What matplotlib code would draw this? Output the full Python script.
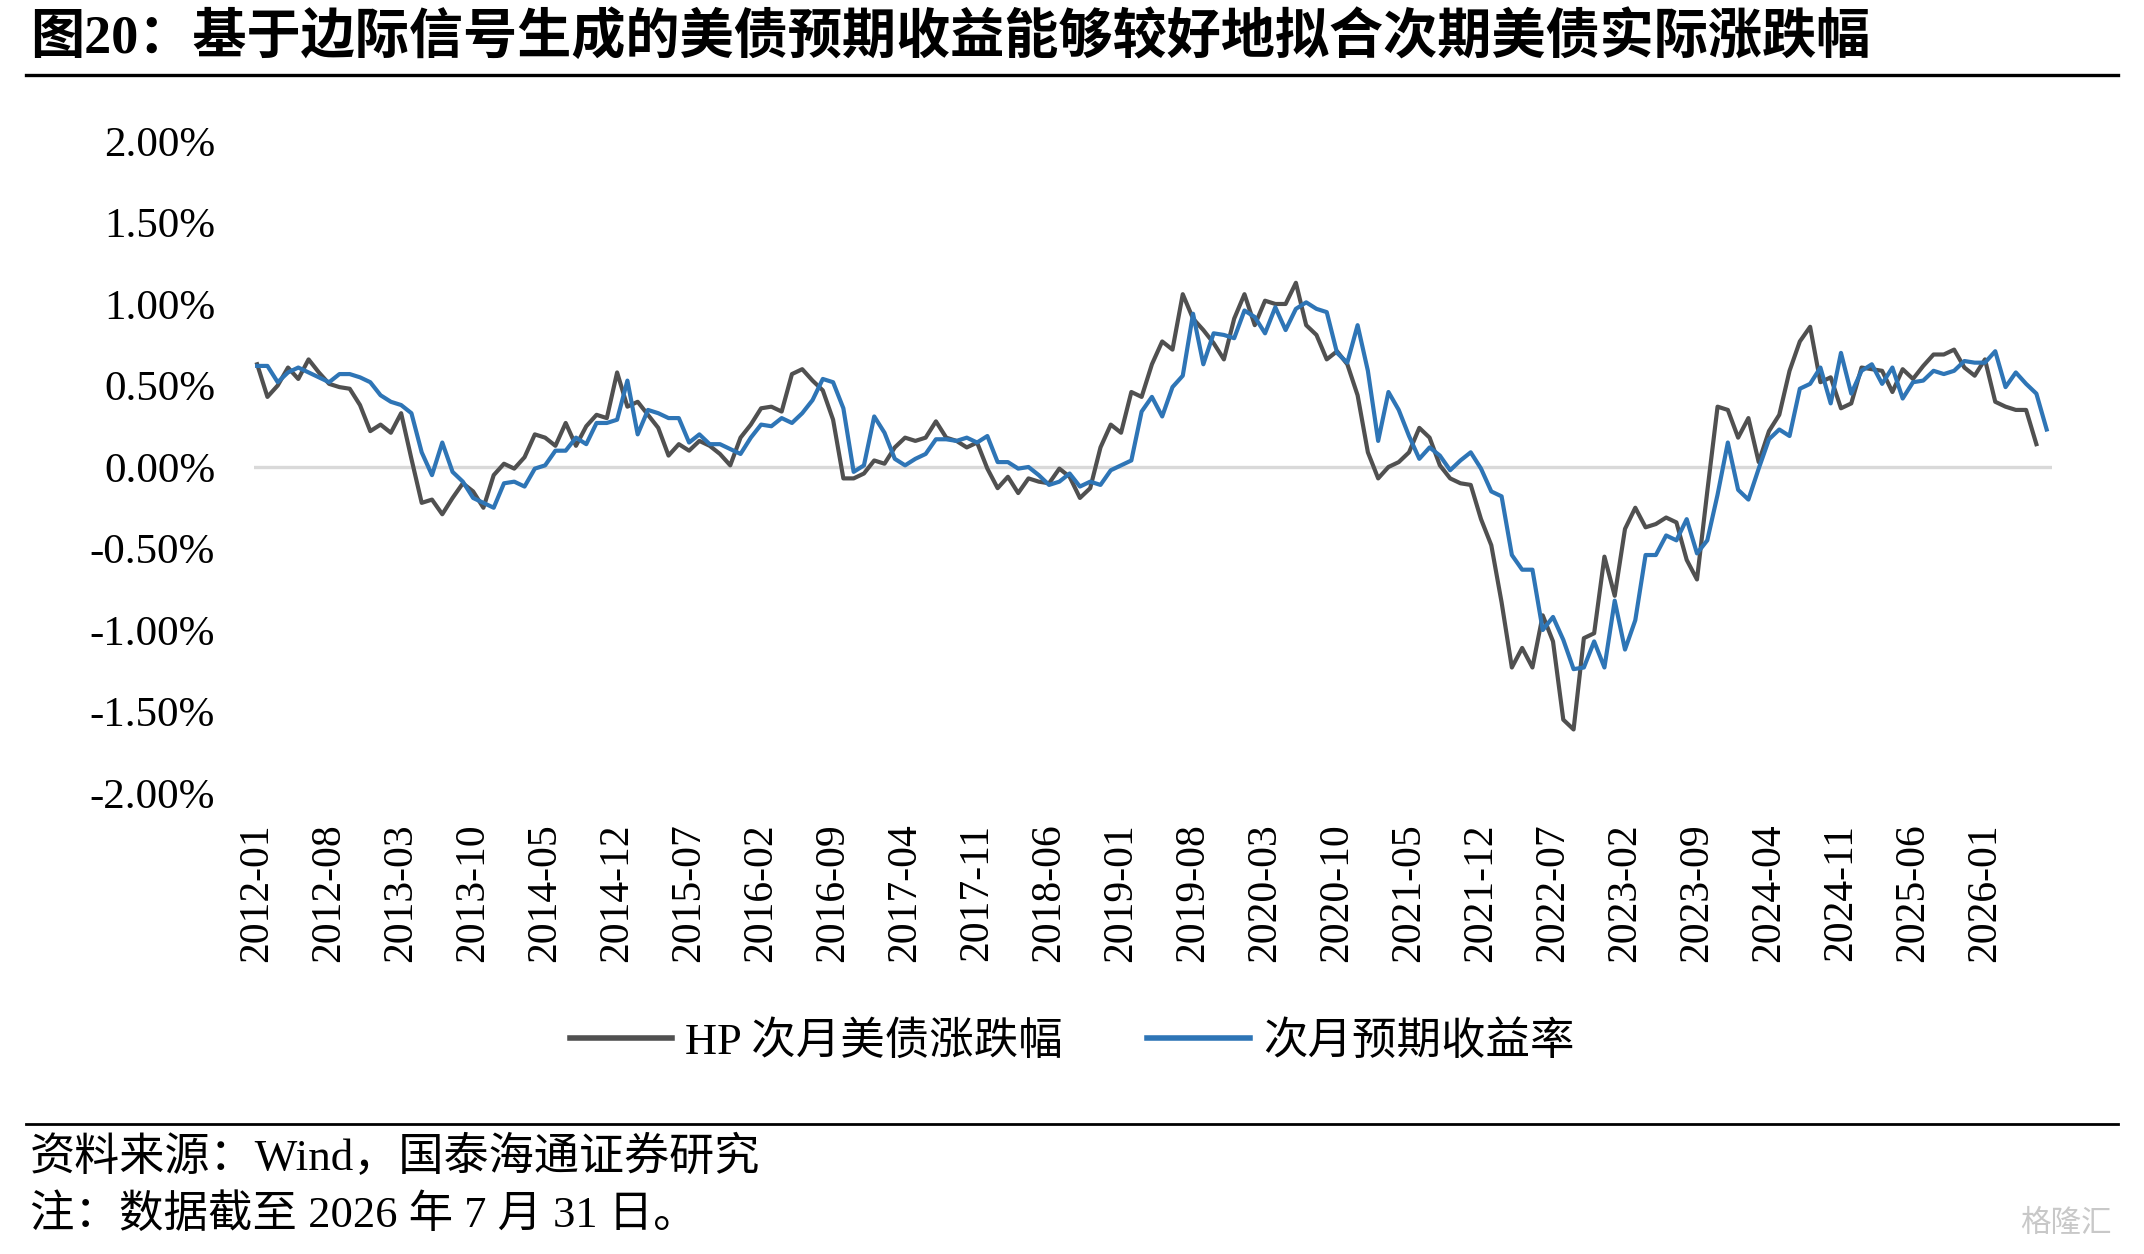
import matplotlib
matplotlib.use("Agg")
import matplotlib.pyplot as plt
from matplotlib.lines import Line2D
import pandas as pd

plt.rcParams['font.family'] = ['Liberation Serif', 'Noto Sans CJK SC']
plt.rcParams['axes.unicode_minus'] = False

# monthly categories 2012-01 .. 2026-07
months = pd.date_range('2012-01-01', periods=175, freq='MS').strftime('%Y-%m').tolist()

# HP 次月美债涨跌幅 (%), ends 2026-06
hp_change = [
    0.63, 0.43, 0.50, 0.61, 0.54, 0.66, 0.58, 0.51, 0.49, 0.48,
    0.38, 0.22, 0.26, 0.21, 0.33, 0.05, -0.22, -0.20, -0.29, -0.19,
    -0.10, -0.15, -0.25, -0.05, 0.02, -0.01, 0.06, 0.20, 0.18, 0.13,
    0.27, 0.13, 0.25, 0.32, 0.30, 0.58, 0.37, 0.40, 0.32, 0.24,
    0.07, 0.14, 0.10, 0.16, 0.13, 0.08, 0.01, 0.18, 0.26, 0.36,
    0.37, 0.34, 0.57, 0.60, 0.53, 0.47, 0.29, -0.07, -0.07, -0.04,
    0.04, 0.02, 0.12, 0.18, 0.16, 0.18, 0.28, 0.18, 0.16, 0.12,
    0.15, -0.01, -0.13, -0.06, -0.16, -0.07, -0.09, -0.10, -0.01, -0.06,
    -0.19, -0.13, 0.12, 0.26, 0.21, 0.46, 0.43, 0.63, 0.77, 0.72,
    1.06, 0.91, 0.84, 0.76, 0.66, 0.91, 1.06, 0.87, 1.02, 1.00,
    1.00, 1.13, 0.87, 0.81, 0.66, 0.71, 0.63, 0.44, 0.09, -0.07,
    0.00, 0.03, 0.09, 0.24, 0.18, 0.01, -0.07, -0.10, -0.11, -0.32,
    -0.48, -0.83, -1.23, -1.11, -1.23, -0.91, -1.07, -1.55, -1.61, -1.05,
    -1.02, -0.55, -0.79, -0.38, -0.25, -0.37, -0.35, -0.31, -0.34, -0.57,
    -0.69, -0.15, 0.37, 0.35, 0.18, 0.30, 0.03, 0.22, 0.32, 0.59,
    0.77, 0.86, 0.52, 0.55, 0.36, 0.39, 0.61, 0.60, 0.59, 0.46,
    0.60, 0.54, 0.62, 0.69, 0.69, 0.72, 0.61, 0.56, 0.66, 0.40,
    0.37, 0.35, 0.35, 0.14,
]

# 次月预期收益率 (%), ends 2026-07
expected_ret = [
    0.62, 0.62, 0.52, 0.58, 0.61, 0.58, 0.55, 0.52, 0.57, 0.57,
    0.55, 0.52, 0.44, 0.40, 0.38, 0.33, 0.09, -0.05, 0.15, -0.03,
    -0.09, -0.19, -0.22, -0.25, -0.10, -0.09, -0.12, -0.01, 0.01, 0.10,
    0.10, 0.18, 0.14, 0.27, 0.27, 0.29, 0.53, 0.20, 0.35, 0.33,
    0.30, 0.30, 0.15, 0.20, 0.14, 0.14, 0.11, 0.08, 0.18, 0.26,
    0.25, 0.30, 0.27, 0.33, 0.41, 0.54, 0.52, 0.36, -0.03, 0.01,
    0.31, 0.21, 0.05, 0.01, 0.05, 0.08, 0.17, 0.17, 0.16, 0.18,
    0.15, 0.19, 0.03, 0.03, -0.01, 0.00, -0.05, -0.11, -0.09, -0.04,
    -0.12, -0.09, -0.11, -0.02, 0.01, 0.04, 0.34, 0.43, 0.31, 0.49,
    0.56, 0.94, 0.63, 0.82, 0.81, 0.79, 0.96, 0.92, 0.82, 0.98,
    0.84, 0.97, 1.01, 0.97, 0.95, 0.70, 0.64, 0.87, 0.59, 0.16,
    0.46, 0.35, 0.19, 0.05, 0.12, 0.07, -0.02, 0.04, 0.09, -0.01,
    -0.15, -0.18, -0.54, -0.63, -0.63, -1.00, -0.92, -1.06, -1.24, -1.23,
    -1.07, -1.23, -0.82, -1.12, -0.94, -0.54, -0.54, -0.42, -0.45, -0.32,
    -0.53, -0.45, -0.17, 0.15, -0.14, -0.20, -0.01, 0.17, 0.23, 0.19,
    0.48, 0.51, 0.61, 0.39, 0.70, 0.45, 0.59, 0.63, 0.51, 0.61,
    0.42, 0.52, 0.53, 0.59, 0.57, 0.59, 0.65, 0.64, 0.64, 0.71,
    0.49, 0.58, 0.51, 0.45, 0.23,
]

y_ticks = [-2.0, -1.5, -1.0, -0.5, 0.0, 0.5, 1.0, 1.5, 2.0]

title = '图20：基于边际信号生成的美债预期收益能够较好地拟合次期美债实际涨跌幅'
label_hp = 'HP 次月美债涨跌幅'
label_exp = '次月预期收益率'
source = '资料来源：Wind，国泰海通证券研究'
note = '注：数据截至 2026 年 7 月 31 日。'

black_c = '#505050'
blue_c = '#2e75b6'

fig = plt.figure(figsize=(21.44, 12.54), dpi=100)
ax = fig.add_axes([0.1185, 0.3676, 0.8385, 0.52])

x = list(range(len(months)))
ax.axhline(0, color='#d9d9d9', lw=2.4, zorder=1)
ax.plot(x[:len(hp_change)], hp_change, color=black_c, lw=3.0, zorder=3)
ax.plot(x[:len(expected_ret)], expected_ret, color=blue_c, lw=3.0, zorder=4)

ax.set_xlim(-0.3, 174.5)
ax.set_ylim(-2.0, 2.0)
ax.set_yticks(y_ticks)
ax.set_yticklabels(['{:.2f}%'.format(v) for v in y_ticks], fontsize=31)
tick_pos = x[::7]
ax.set_xticks(tick_pos)
ax.set_xticklabels([months[i] for i in tick_pos], rotation=90, fontsize=30,
                   va='top', ha='center')
ax.tick_params(axis='y', length=0, pad=28)
ax.tick_params(axis='x', length=0, pad=22)
for s in ax.spines.values():
    s.set_visible(False)

# title and rules
fig.text(0.014, 0.969, title, fontsize=39, fontweight='bold', va='center', ha='left')
fig.add_artist(Line2D([0.012, 0.988], [0.940, 0.940], color='black', lw=2.4))
fig.add_artist(Line2D([0.012, 0.988], [0.104, 0.104], color='black', lw=2.0))

# legend
handles = [Line2D([], [], color=black_c, lw=4.0),
           Line2D([], [], color=blue_c, lw=4.0)]
fig.legend(handles, [label_hp, label_exp], loc='center', bbox_to_anchor=(0.5, 0.169),
           ncol=2, frameon=False, fontsize=32, handlelength=2.3,
           handletextpad=0.3, columnspacing=1.9)

# footer
fig.text(0.014, 0.077, source, fontsize=32.5, va='center', ha='left')
fig.text(0.014, 0.031, note, fontsize=32, va='center', ha='left')
fig.text(0.985, 0.012, '格隆汇', fontsize=22, color='#c8c8c8', va='bottom', ha='right')

fig.savefig('out.png', dpi=100)
